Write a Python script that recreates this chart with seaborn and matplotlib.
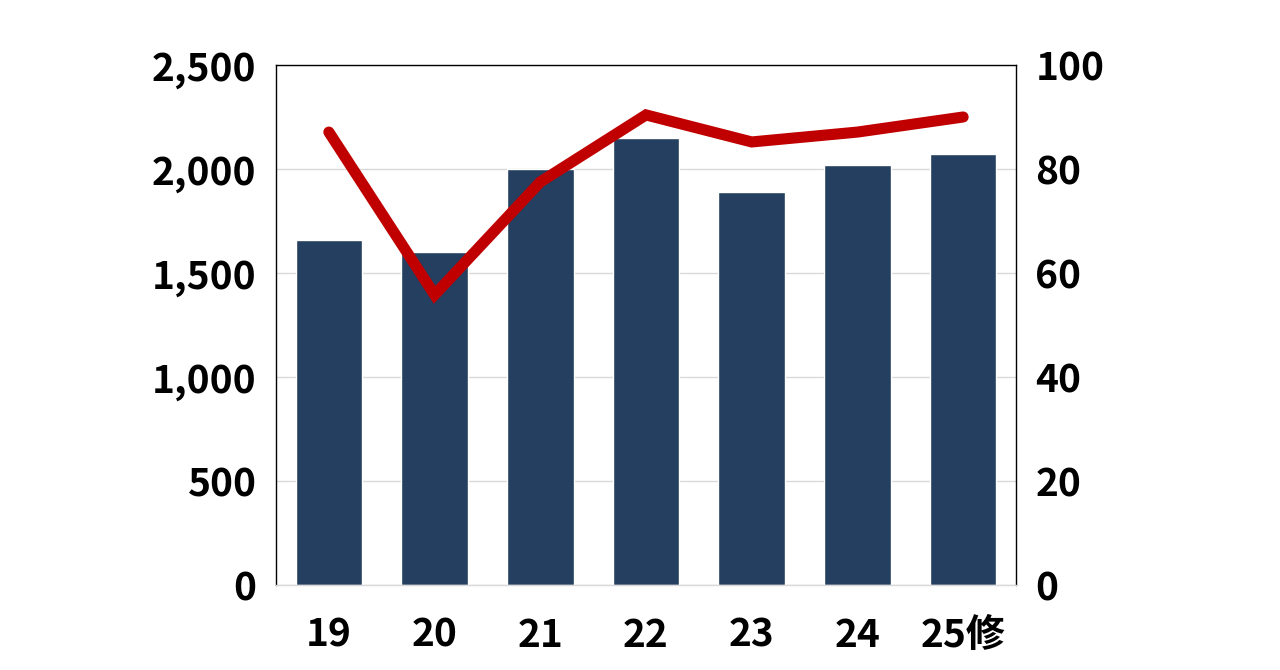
import matplotlib
matplotlib.use("Agg")
import matplotlib.pyplot as plt
import seaborn as sns
import pandas as pd

categories = ["19", "20", "21", "22", "23", "24", "25修"]
bar_values = [1660, 1600, 2000, 2150, 1890, 2020, 2070]
line_values = [87.1, 55.8, 77.5, 90.4, 85.2, 87.1, 90.0]

sns.set_style("white")
plt.rcParams['font.family'] = ['Noto Sans CJK JP', 'DejaVu Sans']
plt.rcParams['font.weight'] = 'bold'
plt.rcParams['text.color'] = 'black'

fig = plt.figure(figsize=(12.8, 6.7), dpi=100)
ax = fig.add_axes([276/1280, 1-585/670, (1016-276)/1280, (585-65)/670])
df = pd.DataFrame({"cat": categories, "val": bar_values, "line": line_values})
sns.barplot(data=df, x="cat", y="val", color="#253F60", saturation=1, width=0.63, ax=ax, zorder=2)
ax.set_ylim(0, 2500)
ax.set_yticks(range(0, 2501, 500))
ax.set_yticklabels([f"{v:,}" for v in range(0, 2501, 500)])
ax.yaxis.grid(True, color="#d9d9d9", lw=1, zorder=0)
ax.set_xlabel(""); ax.set_ylabel("")
for s in ax.spines.values():
    s.set_color("black"); s.set_linewidth(1)
ax.spines["bottom"].set_color("#d9d9d9")
ax.tick_params(axis="both", labelsize=28, length=0, pad=14, colors="black")
ax.tick_params(axis="x", pad=22)

ax2 = ax.twinx()
ax2.plot(range(len(categories)), line_values, color="#C00000", lw=8, solid_joinstyle="miter", zorder=3)
ax2.set_ylim(0, 100)
ax2.set_xlim(-0.5, len(categories) - 0.5)
ax.set_xlim(-0.5, len(categories) - 0.5)
ax2.set_yticks(range(0, 101, 20))
ax2.tick_params(axis="y", labelsize=28, length=0, pad=14, colors="black")
for s in ax2.spines.values():
    s.set_visible(False)
for lab in ax.get_xticklabels() + ax.get_yticklabels() + ax2.get_yticklabels():
    lab.set_fontweight("bold")
fig.savefig("out.png", dpi=100)
